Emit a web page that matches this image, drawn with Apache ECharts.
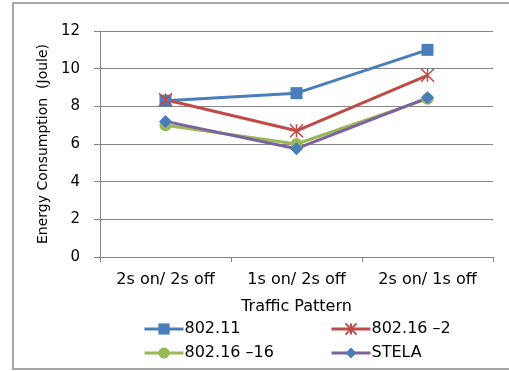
<!DOCTYPE html>
<html><head><meta charset="utf-8">
<script src="https://cdn.jsdelivr.net/npm/echarts@6/dist/echarts.min.js"></script>
<style>html,body{margin:0;padding:0;background:#fff}#c{width:509px;height:371px}</style>
</head><body><div id="c"></div>
<script>
const categories = ['2s on/ 2s off', '1s on/ 2s off', '2s on/ 1s off'];
const s80211 = [8.3, 8.7, 11.0];
const s802162 = [8.35, 6.7, 9.65];
const s8021616 = [7.0, 6.0, 8.4];
const stela = [7.2, 5.75, 8.45];
const yTicks = [0, 2, 4, 6, 8, 10, 12];
const seriesNames = ['802.11', '802.16 \u20132', '802.16 \u201316', 'STELA'];

const FONT = 'DejaVu Sans';
const star = 'path://M0,0L10,10M10,0L0,10M5,0L5,10';
const chart = echarts.init(document.getElementById('c'));
function legendAt(name, left, top) {
  return { data: [name], left: left, top: top, itemWidth: 39, itemHeight: 14, itemGap: 0,
    padding: 0, lineStyle: { width: 3 },
    textStyle: { fontFamily: FONT, fontSize: 16, color: '#000', padding: [0,0,0,-4] } };
}
chart.setOption({
  animation: false,
  textStyle: { fontFamily: FONT },
  graphic: [{ type: 'rect', shape: { x: 13, y: 3, width: 520, height: 366 },
    style: { fill: 'none', stroke: '#8a8a8a', lineWidth: 1.5 } }],
  grid: { left: 100, right: 16, top: 31, bottom: 114 },
  legend: [
    legendAt(seriesNames[0], 143, 321),
    legendAt(seriesNames[1], 330, 321),
    legendAt(seriesNames[2], 143, 345),
    legendAt(seriesNames[3], 330, 345)
  ],
  xAxis: {
    type: 'category', data: categories, boundaryGap: true,
    name: 'Traffic Pattern', nameLocation: 'middle', nameGap: 42,
    nameTextStyle: { fontFamily: FONT, fontSize: 16, color: '#000' },
    axisLine: { lineStyle: { color: '#868686', width: 1 } },
    axisTick: { show: true, length: 5, lineStyle: { color: '#868686' } },
    axisLabel: { fontFamily: FONT, fontSize: 16, color: '#000', margin: 15 }
  },
  yAxis: {
    type: 'value', min: 0, max: 12, interval: 2,
    name: 'Energy Consumption  (Joule)', nameLocation: 'middle', nameGap: 50,
    nameTextStyle: { fontFamily: FONT, fontSize: 14, color: '#000' },
    axisLine: { show: true, lineStyle: { color: '#868686', width: 1 } },
    axisTick: { show: true, length: 6, lineStyle: { color: '#868686' } },
    splitLine: { lineStyle: { color: '#868686', width: 1 } },
    axisLabel: { fontFamily: FONT, fontSize: 15, color: '#000', margin: 20,
      formatter: v => yTicks.includes(v) ? String(v) : '' }
  },
  series: [
    { name: seriesNames[0], type: 'line', data: s80211, symbol: 'rect', symbolSize: 12,
      lineStyle: { color: '#4A7EBB', width: 3 }, itemStyle: { color: '#4A7EBB' } },
    { name: seriesNames[1], type: 'line', data: s802162, symbol: star, symbolSize: 13,
      lineStyle: { color: '#BE4B48', width: 3 },
      itemStyle: { color: '#BE4B48', borderColor: '#BE4B48', borderWidth: 1.5 } },
    { name: seriesNames[2], type: 'line', data: s8021616, symbol: 'circle', symbolSize: 12,
      lineStyle: { color: '#98B954', width: 3 }, itemStyle: { color: '#98B954' } },
    { name: seriesNames[3], type: 'line', data: stela, symbol: 'diamond', symbolSize: 13,
      lineStyle: { color: '#7D60A0', width: 3 }, itemStyle: { color: '#4A7EBB' } }
  ]
});
</script></body></html>
